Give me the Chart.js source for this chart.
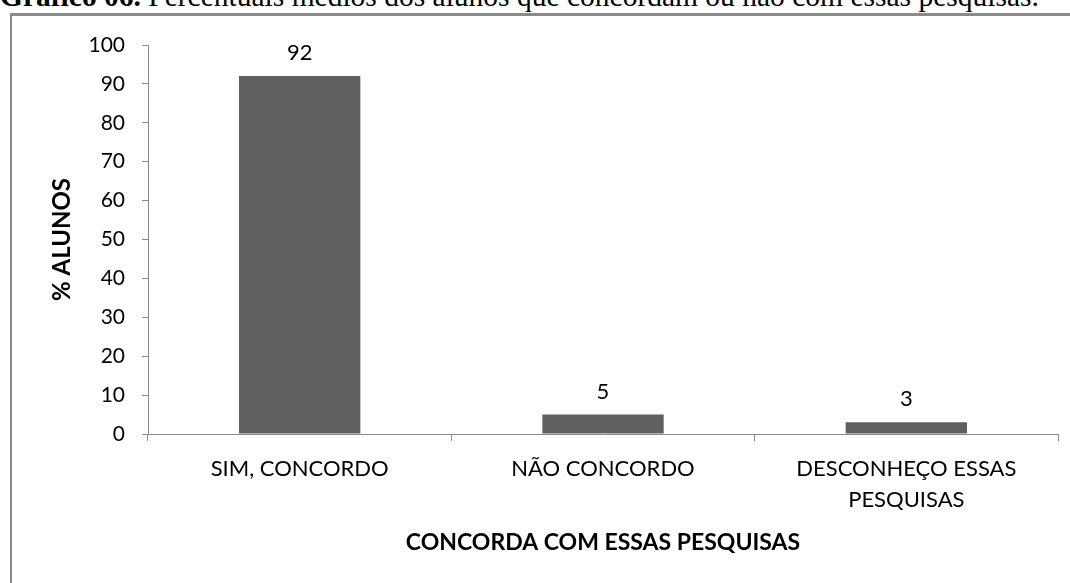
<!DOCTYPE html>
<html>
<head>
<meta charset="utf-8">
<script src="https://cdn.jsdelivr.net/npm/chart.js@4.4.1/dist/chart.umd.min.js"></script>
<style>
  html, body { margin: 0; padding: 0; background: #fff; overflow: hidden; }
  #titre {
    position: absolute; left: 0; top: -18px; white-space: nowrap;
    font-family: "Liberation Serif", "Times New Roman", serif;
    font-size: 29.5px; line-height: 29.5px; color: #000;
  }
  #cadre {
    position: absolute; left: 10px; top: 13px; width: 1080px; height: 600px;
    border-left: 2px solid #8a8a8a; border-top: 3px solid #8a8a8a;
  }
  #zone { position: absolute; left: 0; top: 0; width: 1070px; height: 583px; }
</style>
</head>
<body>
<div id="titre"><b>Gráfico 06.</b> Percentuais médios dos alunos que concordam ou não com essas pesquisas.</div>
<div id="cadre"></div>
<div id="zone"><canvas id="graphique"></canvas></div>
<script>
const categories = ["SIM, CONCORDO", "NÃO CONCORDO", ["DESCONHEÇO ESSAS", "PESQUISAS"]]
const pourcentages = [92, 5, 3]
const ticksY = [0, 10, 20, 30, 40, 50, 60, 70, 80, 90, 100]

const police = "Lato, 'Open Sans', sans-serif"

// Étiquettes de valeur au-dessus des barres
const etiquettes = {
    id: "etiquettes",
    afterDatasetsDraw(chart) {
        const ctx = chart.ctx
        const meta = chart.getDatasetMeta(0)
        ctx.save()
        ctx.font = "22px " + police
        ctx.fillStyle = "#000"
        ctx.textAlign = "center"
        ctx.textBaseline = "middle"
        meta.data.forEach((barre, i) => {
            ctx.fillText(String(pourcentages[i]), barre.x, barre.y - 23)
        })
        ctx.restore()
    }
}

const data = {
    labels: categories,
    datasets: [{
        data: pourcentages,
        backgroundColor: "#606060",
        barPercentage: 0.4,
        categoryPercentage: 1,
    }],
}

const config = {
    type: "bar",
    data: data,
    options: {
        responsive: true,
        maintainAspectRatio: false,
        animation: false,
        layout: { padding: { top: 45, right: 12, left: 0, bottom: 0 } },
        plugins: { legend: { display: false }, tooltip: { enabled: false } },
        scales: {
            x: {
                afterFit: (scale) => { scale.height = 149 },
                grid: { offset: true, drawOnChartArea: false, drawTicks: true, tickLength: 7, color: "#8a8a8a" },
                border: { color: "#8a8a8a", width: 1 },
                ticks: { color: "#000", font: { family: police, size: 22, lineHeight: 1.41 }, padding: 12, maxRotation: 0 },
                title: {
                    display: true, text: "CONCORDA COM ESSAS PESQUISAS", color: "#000",
                    font: { family: police, size: 23, weight: "bold" }, padding: { top: 0, bottom: 27 }
                },
            },
            y: {
                min: 0, max: 100,
                afterFit: (scale) => { scale.width = 148 },
                afterBuildTicks: (scale) => { scale.ticks = ticksY.map(v => ({ value: v })) },
                grid: { drawOnChartArea: false, drawTicks: true, tickLength: 6, color: "#8a8a8a" },
                border: { color: "#8a8a8a", width: 1 },
                ticks: { color: "#000", font: { family: police, size: 21 }, padding: 17 },
                title: {
                    display: true, text: "% ALUNOS", color: "#000",
                    font: { family: police, size: 24, weight: "bold" }, padding: { top: 48, bottom: 0 }
                },
            },
        },
    },
    plugins: [etiquettes],
}

const graphique = new Chart(document.querySelector("#graphique"), config)
</script>
</body>
</html>
